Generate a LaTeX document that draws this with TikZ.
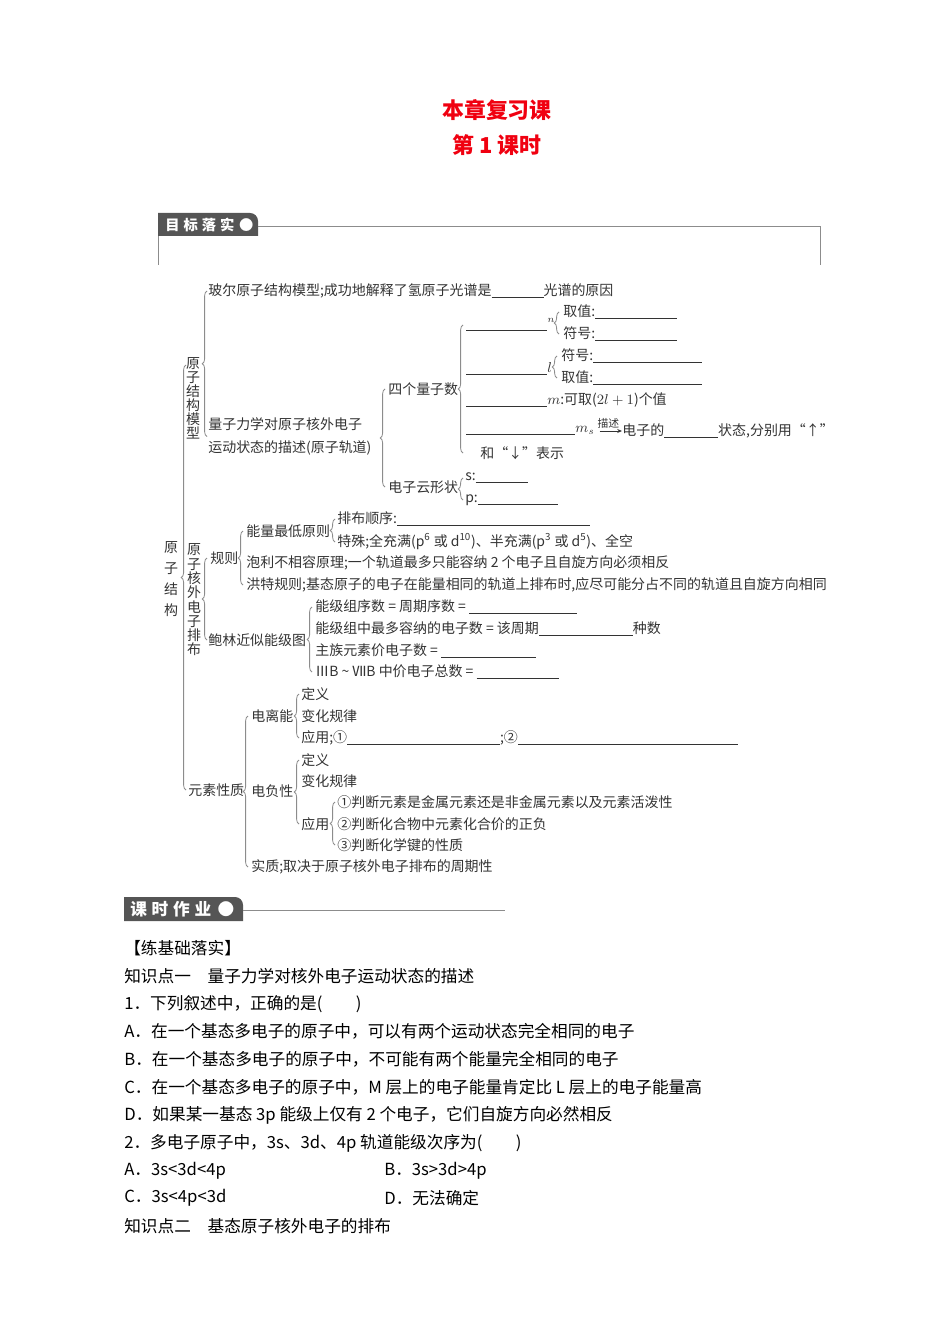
\documentclass[tikz,border=0pt]{standalone}
\usepackage{amsmath}
\usepackage{fontspec}
\setmainfont{Noto Sans CJK SC}
\usetikzlibrary{decorations.pathreplacing, arrows.meta}

\newlength\pxu \setlength\pxu{0.63pt}
\newcommand\blank[1]{\rule[-1.4pt]{#1\pxu}{0.5pt}}
\definecolor{mapgray}{HTML}{333333}
\definecolor{boxgray}{HTML}{555555}
\definecolor{linegray}{HTML}{8C8C8C}
\definecolor{titlered}{HTML}{F00010}

\tikzset{
  mapt/.style={anchor=west, inner sep=0pt, text=mapgray, font=\fontsize{8.8}{10}\selectfont},
  vert/.style={inner sep=0pt, text=mapgray, align=center},
  brc/.style={draw=linegray, line width=0.5pt, decorate, decoration={brace, amplitude=3pt}},
  body/.style={anchor=west, inner sep=0pt, font=\fontsize{10.5}{12}\selectfont},
  ttl/.style={inner sep=0pt, text=titlered, font=\fontsize{13.8}{15}\bfseries},
  hdrtxt/.style={anchor=west, inner sep=0pt, text=white},
  sepline/.style={draw=linegray, line width=0.6pt}
}

\begin{document}
\begin{tikzpicture}[x=0.63pt, y=-0.63pt]
\useasboundingbox (0,0) rectangle (950,1344);

% title
\node[ttl] (t1) at (497,110) {本章复习课};
\node[ttl] (t2) at (497,145) {第 1 课时};

% header: goal
\fill[boxgray] (158,236) -- (158,213) [rounded corners=5] -- (258,213) [sharp corners] -- (258,236) -- cycle;
\node[hdrtxt, font=\fontsize{9}{10}\bfseries] (goal) at (165,224.5) {目\hspace{2.5pt}标\hspace{2.5pt}落\hspace{2.5pt}实\hspace{3pt}●};
\draw[sepline] (258,226) -- (820,226) -- (820,265);
\draw[sepline] (158,236) -- (158,265);

% level 0 and 1
\node[vert, font=\fontsize{8.8}{13.2}\selectfont] (root) at (171,579) {原\\子\\结\\构};
\node[vert, font=\fontsize{8.8}{8.8}\selectfont] (mdl) at (193,398) {原\\子\\结\\构\\模\\型};
\node[vert, font=\fontsize{8.8}{9}\selectfont] (arr) at (194,600) {原\\子\\核\\外\\电\\子\\排\\布};
\node[mapt] (prop) at (188,790) {元素性质};
\coordinate (mdltop) at (186,365);

% atomic models
\node[mapt] (bohr) at (208,291) {玻尔原子结构模型;成功地解释了氢原子光谱是\blank{52}光谱的原因};
\node[mapt, align=left, font=\fontsize{8.8}{14.5}\selectfont] (qm) at (208,436.5) {量子力学对原子核外电子\\运动状态的描述(原子轨道)};
\node[mapt] (four) at (388,389) {四个量子数};
\node[mapt] (cloud) at (388,487) {电子云形状};
\node[mapt] (qn) at (466,325) {\blank{81}$^{n}$};
\node[mapt] (nval) at (563,312) {取值:\blank{82}};
\node[mapt] (nsym) at (563,334) {符号:\blank{82}};
\node[mapt] (ql) at (466,369) {\blank{81}$l$};
\node[mapt] (lsym) at (561,356) {符号:\blank{109}};
\node[mapt] (lval) at (561,378) {取值:\blank{109}};
\node[mapt] (qml) at (466,400) {\blank{81}$m$:可取($2l+1$)个值};
\node[mapt] (qs) at (466,431) {\blank{109}$m_s$};
\node[mapt] (qs3) at (622,431) {电子的\blank{54}状态,分别用“↑”};
\node[mapt] (qs2) at (480,453) {和“↓”表示};
\node[mapt] (cs) at (465,478) {s:\blank{52}};
\node[mapt] (cp) at (465,500) {p:\blank{80}};
\draw[-{Stealth[length=3pt,width=2.5pt]}, draw=mapgray, line width=0.5pt, shorten <=3pt]
  (qs.east) -- (qs3.west) node[midway, above=1.5pt, inner sep=0pt, text=mapgray, font=\fontsize{6.8}{7}\selectfont] (desc) {描述};

% electron arrangement
\node[mapt] (guize) at (210,558) {规则};
\node[mapt] (paul) at (208,640) {鲍林近似能级图};
\node[mapt] (low) at (246,531) {能量最低原则};
\node[mapt] (pauli) at (246,563) {泡利不相容原理;一个轨道最多只能容纳 2 个电子且自旋方向必须相反};
\node[mapt] (hund) at (246,585) {洪特规则;基态原子的电子在能量相同的轨道上排布时,应尽可能分占不同的轨道且自旋方向相同};
\node[mapt] (order) at (337,519) {排布顺序:\blank{193}};
\node[mapt] (special) at (337,542) {特殊;全充满(p\textsuperscript{6} 或 d\textsuperscript{10})、半充满(p\textsuperscript{3} 或 d\textsuperscript{5})、全空};
\node[mapt] (g1) at (315,607) {能级组序数 = 周期序数 = \blank{108}};
\node[mapt] (g2) at (315,629) {能级组中最多容纳的电子数 = 该周期\blank{94}种数};
\node[mapt] (g3) at (315,651) {主族元素价电子数 = \blank{95}};
\node[mapt] (g4) at (315,672) {ⅢB \textasciitilde{} ⅦB 中价电子总数 = \blank{82}};

% element properties
\node[mapt] (ion) at (251,716) {电离能};
\node[mapt] (eneg) at (251,791) {电负性};
\node[mapt] (ess) at (251,867) {实质;取决于原子核外电子排布的周期性};
\node[mapt] (def1) at (301,694) {定义};
\node[mapt] (var1) at (301,716) {变化规律};
\node[mapt] (app1) at (301,738) {应用;①\blank{153};②\blank{220}};
\node[mapt] (def2) at (301,760) {定义};
\node[mapt] (var2) at (301,781) {变化规律};
\node[mapt] (app2) at (301,824) {应用};
\node[mapt] (a1) at (337,802) {①判断元素是金属元素还是非金属元素以及元素活泼性};
\node[mapt] (a2) at (337,824) {②判断化合物中元素化合价的正负};
\node[mapt] (a3) at (337,845) {③判断化学键的性质};

% braces
\draw[brc] (prop.west -| 186,0) -- (mdltop);
\draw[brc] (qm.west -| 207,0) -- (bohr.west -| 207,0);
\draw[brc] (cloud.west -| 385,0) -- (four.west -| 385,0);
\draw[brc] (qs2.west -| 463,0) -- (qn.west -| 463,0);
\draw[brc] (nsym.west -| 559,0) -- (nval.west -| 559,0);
\draw[brc] (lval.west -| 557,0) -- (lsym.west -| 557,0);
\draw[brc] (cp.west -| 463,0) -- (cs.west -| 463,0);
\draw[brc] (paul.west -| 207,0) -- (guize.west -| 207,0);
\draw[brc] (hund.west -| 243,0) -- (low.west -| 243,0);
\draw[brc] (special.west -| 335,0) -- (order.west -| 335,0);
\draw[brc] (g4.west -| 312,0) -- (g1.west -| 312,0);
\draw[brc] (ess.west -| 248,0) -- (ion.west -| 248,0);
\draw[brc] (app1.west -| 299,0) -- (def1.west -| 299,0);
\draw[brc] (app2.west -| 299,0) -- (def2.west -| 299,0);
\draw[brc] (a3.west -| 335,0) -- (a1.west -| 335,0);

% header: homework
\fill[boxgray] (124,921) -- (124,897) [rounded corners=5] -- (243,897) [sharp corners] -- (243,921) -- cycle;
\node[hdrtxt, font=\fontsize{10.5}{12}\bfseries] (work) at (130,909) {课\hspace{3pt}时\hspace{3pt}作\hspace{3pt}业\hspace{4pt}●};
\draw[sepline] (243,910) -- (505,910);

% exercises
\node[body] (p0) at (124,948) {【练基础落实】};
\node[body] (p1) at (124,976) {知识点一\hspace{1em}量子力学对核外电子运动状态的描述};
\node[body] (p2) at (124,1004) {1．下列叙述中，正确的是(\hspace{2em})};
\node[body] (p3) at (124,1031) {A．在一个基态多电子的原子中，可以有两个运动状态完全相同的电子};
\node[body] (p4) at (124,1059) {B．在一个基态多电子的原子中，不可能有两个能量完全相同的电子};
\node[body] (p5) at (124,1087) {C．在一个基态多电子的原子中，M 层上的电子能量肯定比 L 层上的电子能量高};
\node[body] (p6) at (124,1115) {D．如果某一基态 3p 能级上仅有 2 个电子，它们自旋方向必然相反};
\node[body] (p7) at (124,1143) {2．多电子原子中，3s、3d、4p 轨道能级次序为(\hspace{2em})};
\node[body] (p8a) at (124,1171) {A．3s<3d<4p};
\node[body] (p8b) at (384,1171) {B．3s>3d>4p};
\node[body] (p9a) at (124,1198) {C．3s<4p<3d};
\node[body] (p9b) at (384,1198) {D．无法确定};
\node[body] (p10) at (124,1226) {知识点二\hspace{1em}基态原子核外电子的排布};
\end{tikzpicture}
\end{document}
